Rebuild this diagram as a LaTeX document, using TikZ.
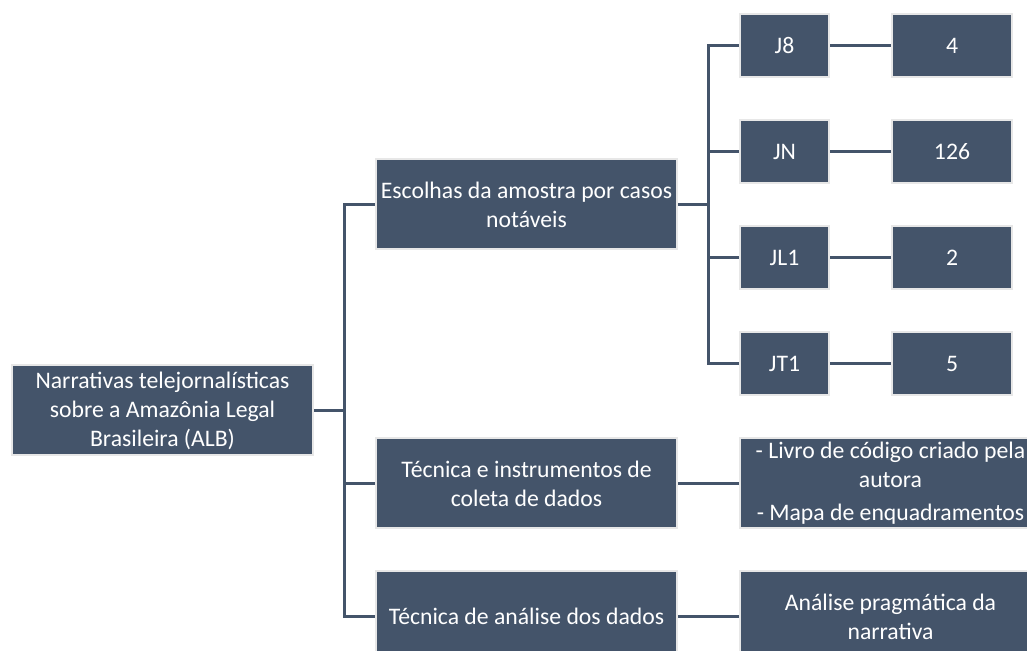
\documentclass[tikz,border=0pt]{standalone}
\usepackage{fontspec}
\setmainfont{Carlito}
\usetikzlibrary{positioning, calc}
\definecolor{slate}{HTML}{44546A}
\definecolor{rim}{HTML}{E7E7E7}

\begin{document}
\begin{tikzpicture}[node distance=20.5pt and 30.5pt,
  every node/.style={font=\fontsize{11.85}{14.5}\selectfont, text=white},
  box/.style={rectangle, draw=rim, line width=1pt, fill=slate, align=center, inner sep=0pt, minimum width=150.5pt, minimum height=45pt},
  code/.style={box, minimum width=44.5pt, minimum height=31.5pt},
  count/.style={box, minimum width=60pt, minimum height=31.5pt},
  link/.style={draw=slate, line width=1.3pt}]
  \useasboundingbox (0,0) rectangle (513.5pt,325.5pt);
  \clip (0,0) rectangle (513.5pt,325.5pt);

  % Nodes
  \node (j8) [code] at (392.25pt,302.75pt) {J8};
  \node (jn) [code, below=of j8] {JN};
  \node (jl1) [code, below=of jn] {JL1};
  \node (jt1) [code, below=of jl1] {JT1};
  \node (n8) [count, right=of j8] {4};
  \node (nn) [count, right=of jn] {126};
  \node (nl1) [count, right=of jl1] {2};
  \node (nt1) [count, right=of jt1] {5};
  \coordinate (jmid) at ($(jn.west)!0.5!(jl1.west)$);
  \node (esc) [box, left=of jmid] {Escolhas da amostra por casos\\notáveis};
  \node (tec) [box, below=93.5pt of esc] {Técnica e instrumentos de\\coleta de dados};
  \node (ana) [box, below=of tec] {Técnica de análise dos dados};
  \coordinate (amid) at ($(esc.west)!0.5!(ana.west)$);
  \node (root) [box, left=of amid] {Narrativas telejornalísticas\\sobre a Amazônia Legal\\Brasileira (ALB)};
  \node (livro) [box, right=of tec] {- Livro de código criado pela\\autora\\[2pt]- Mapa de enquadramentos};
  \node (prag) [box, right=of ana] {Análise pragmática da\\narrativa};

  % Connectors
  \draw[link] (root.east) -- ++(15.25pt,0) |- (esc.west);
  \draw[link] (root.east) -- ++(15.25pt,0) |- (tec.west);
  \draw[link] (root.east) -- ++(15.25pt,0) |- (ana.west);
  \draw[link] (esc.east) -- ++(15.25pt,0) |- (j8.west);
  \draw[link] (esc.east) -- ++(15.25pt,0) |- (jn.west);
  \draw[link] (esc.east) -- ++(15.25pt,0) |- (jl1.west);
  \draw[link] (esc.east) -- ++(15.25pt,0) |- (jt1.west);
  \draw[link] (j8) -- (n8);
  \draw[link] (jn) -- (nn);
  \draw[link] (jl1) -- (nl1);
  \draw[link] (jt1) -- (nt1);
  \draw[link] (tec) -- (livro);
  \draw[link] (ana) -- (prag);
\end{tikzpicture}
\end{document}
